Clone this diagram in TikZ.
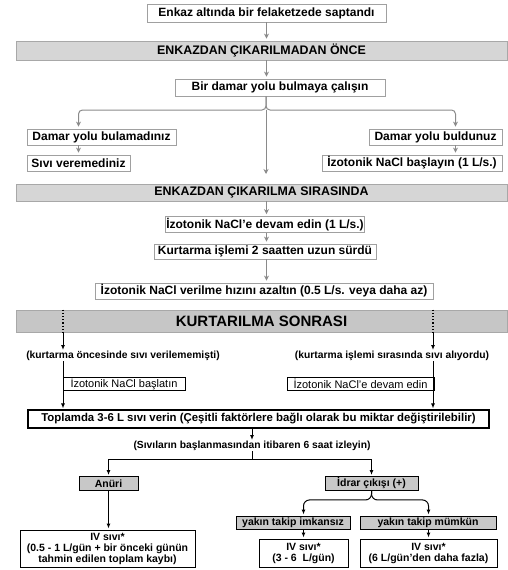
\documentclass[tikz,border=0pt]{standalone}
\usepackage{fontspec}
\setmainfont{Liberation Sans}
\usetikzlibrary{arrows.meta, positioning, calc}

\definecolor{bandfill}{HTML}{D6D6D6}
\definecolor{bandfillB}{HTML}{C6C6C6}
\definecolor{bandline}{HTML}{A8A8A8}
\definecolor{boxline}{HTML}{A0A0A0}
\definecolor{linegray}{HTML}{8A8A8A}
\definecolor{stepfill}{HTML}{C8C8C8}

\begin{document}
\begin{tikzpicture}[
  x=1pt, y=-1pt,
  every node/.style={font=\bfseries\fontsize{12}{14}\selectfont, inner sep=0pt},
  gbox/.style={draw=boxline, line width=0.8pt, fill=white},
  band/.style={draw=bandline, fill=bandfill, line width=0.8pt, minimum width=491pt},
  kbox/.style={draw=black, line width=0.9pt, fill=white, align=center,
    font=\bfseries\fontsize{10.5}{11}\selectfont},
  sbox/.style={kbox, fill=stepfill},
  nbox/.style={draw=black, line width=0.9pt, fill=white, font=\fontsize{11}{12}\selectfont},
  note/.style={font=\bfseries\fontsize{10.3}{12}\selectfont},
  garr/.style={-{Stealth[length=5pt, width=5pt]}, draw=linegray, line width=1pt, shorten >=2pt},
  karr/.style={-{Latex[length=5pt, width=4pt]}, line width=1pt, shorten >=1pt},
]
  \useasboundingbox (0,0) rectangle (507,570);

  % Before extraction
  \node[gbox, minimum width=239pt, minimum height=18pt] (detect) at (266.5,13) {Enkaz altında bir felaketzede saptandı};
  \node[band, minimum height=19pt, font=\bfseries\fontsize{12.4}{14}\selectfont] (before) at (261.5,50.5) {ENKAZDAN ÇIKARILMADAN ÖNCE};
  \node[gbox, minimum width=210pt, minimum height=17pt] (tryiv) at (280,87.5) {Bir damar yolu bulmaya çalışın};
  \node[gbox, minimum width=149pt, minimum height=16pt] (noiv) at (101.5,137) {Damar yolu bulamadınız};
  \node[gbox, minimum width=103pt, minimum height=16pt] (nofluid) at (78.5,163) {Sıvı veremediniz};
  \node[gbox, minimum width=133pt, minimum height=16pt] (gotiv) at (435.5,137) {Damar yolu buldunuz};
  \node[gbox, minimum width=180pt, minimum height=16pt] (startns) at (412,163) {İzotonik NaCl başlayın (1 L/s.)};

  % During extraction
  \node[band, minimum height=17pt, font=\bfseries\fontsize{12.4}{14}\selectfont] (during) at (261.5,192.5) {ENKAZDAN ÇIKARILMA SIRASINDA};
  \node[gbox, minimum width=199pt, minimum height=16pt] (cont) at (265,224.5) {İzotonik NaCl'e devam edin (1 L/s.)};
  \node[gbox, minimum width=222pt, minimum height=15pt] (long) at (265,251.5) {Kurtarma işlemi 2 saatten uzun sürdü};
  \node[gbox, minimum width=338pt, minimum height=16pt] (slow) at (264,291) {İzotonik NaCl verilme hızını azaltın (0.5 L/s. veya daha az)};

  % After extraction
  \node[band, fill=bandfillB, minimum height=22pt, font=\bfseries\fontsize{15}{17}\selectfont] (after) at (261.5,321) {KURTARILMA SONRASI};
  \node[note] (prevL) at (123,356) {(kurtarma öncesinde sıvı verilememişti)};
  \node[note] (prevR) at (392,356) {(kurtarma işlemi sırasında sıvı alıyordu)};
  \node[nbox, minimum width=122pt, minimum height=13pt] (nsL) at (124,383.5) {İzotonik NaCl başlatın};
  \node[nbox, minimum width=147pt, minimum height=13pt] (nsR) at (360.5,383.5) {İzotonik NaCl'e devam edin};
  \node[draw, line width=1.1pt, minimum width=461pt, minimum height=18pt, font=\bfseries\fontsize{11.4}{13}\selectfont] (total) at (258.5,419) {Toplamda 3-6 L sıvı verin (Çeşitli faktörlere bağlı olarak bu miktar değiştirilebilir)};
  \node[note] (watch) at (252,446) {(Sıvıların başlanmasından itibaren 6 saat izleyin)};
  \node[sbox, minimum width=59pt, minimum height=14pt] (anuri) at (108.5,483.5) {Anüri};
  \node[sbox, minimum width=93pt, minimum height=14pt] (urine) at (371.5,483.5) {İdrar çıkışı (+)};
  \node[kbox, minimum width=175pt, minimum height=37pt] (ivA) at (107.5,548.5) {IV sıvı*\\(0.5 - 1 L/gün + bir önceki günün\\tahmin edilen toplam kaybı)};
  \node[sbox, minimum width=114pt, minimum height=13pt] (far) at (293,522.5) {yakın takip imkansız};
  \node[sbox, minimum width=136pt, minimum height=13pt] (near) at (428,522.5) {yakın takip mümkün};
  \node[kbox, minimum width=89pt, minimum height=28pt] (ivB) at (303.5,553) {IV sıvı*\\(3 - 6~~L/gün)};
  \node[kbox, minimum width=137pt, minimum height=28pt] (ivC) at (428.5,553) {IV sıvı*\\(6 L/gün'den daha fazla)};

  % upper arrows
  \coordinate (fork) at (266,110);
  \coordinate (midend) at (266,174);
  \draw[garr] (detect.south) -- (detect.south |- before.north);
  \draw[garr] (before.south -| detect.south) -- (detect.south |- tryiv.north);
  \draw[garr, rounded corners=4pt] (tryiv.south -| fork) -- (fork) -| (noiv.north -| nofluid.north);
  \draw[garr, rounded corners=4pt] (tryiv.south -| fork) -- (fork) -| ([xshift=20pt]gotiv.north);
  \draw[garr, shorten >=0pt] (fork) -- (midend);
  \draw[garr] (noiv.south -| nofluid.north) -- (nofluid.north);
  \draw[garr] ([xshift=20pt]gotiv.south) -- ([xshift=20pt]gotiv.south |- startns.north);
  \draw[garr] (during.south -| detect.south) -- (detect.south |- cont.north);
  \foreach \a/\b in {cont/long, long/slow}
    \draw[garr] (\a.south -| detect.south) -- (detect.south |- \b.north);

  % lower arrows
  \coordinate (dL) at (63,0);
  \coordinate (dR) at (433,0);
  \foreach \d/\p in {dL/prevL, dR/prevR} {
    \draw[dotted, line width=1.2pt] (after.north -| \d) -- (after.south -| \d);
    \draw[karr] (after.south -| \d) -- (\p.north -| \d);
    \draw[karr] (\p.south -| \d) -- (total.north -| \d);
  }
  \draw[karr] (total.south -| watch) -- (watch.north);
  \draw[karr] (watch.south) -- ++(0,8) -| (anuri.north);
  \draw[karr] (watch.south) -- ++(0,8) -| (urine.north);
  \draw[karr] (anuri.south) -- (anuri.south |- ivA.north);
  \draw[karr, rounded corners=6pt] (urine.south) -- ++(0,9) -| (far.north -| ivB.north);
  \draw[karr, rounded corners=6pt] (urine.south) -- ++(0,9) -| (near.north -| ivC.north);
  \draw[karr] (far.south -| ivB.north) -- (ivB.north);
  \draw[karr] (near.south -| ivC.north) -- (ivC.north);
\end{tikzpicture}
\end{document}
